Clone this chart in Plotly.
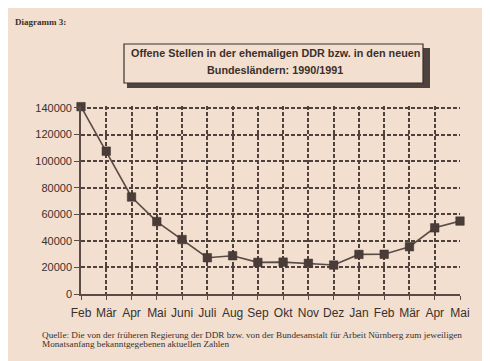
import plotly.graph_objects as go

months = ["Feb", "Mär", "Apr", "Mai", "Juni", "Juli", "Aug", "Sep", "Okt", "Nov", "Dez",
          "Jan", "Feb", "Mär", "Apr", "Mai"]
offene_stellen = [141000, 107500, 73000, 54500, 41000, 27300, 28800, 23800, 24000, 23100,
                  21800, 29800, 29900, 35600, 49800, 54900]
y_ticks = [0, 20000, 40000, 60000, 80000, 100000, 120000, 140000]

x_pos = list(range(len(months)))

BG = "#f2dfcf"
INK = "#3b302c"
LINE = "#5a4b45"
GRID = "#4f423d"

OFF = 8            # page body margin
W, H = 482, 353
Y_TOP = 141500
L = 81 - OFF
plot_bottom = 294 - OFF
ph = 186 * Y_TOP / 140000
T = plot_bottom - ph
B = H - plot_bottom
R = W - (460 - OFF)
pw = W - L - R


def px(x):
    return (x - OFF - L) / pw


def py(y):
    return (plot_bottom - (y - OFF)) / ph


fig = go.Figure()
fig.add_trace(go.Scatter(
    x=x_pos, y=offene_stellen, mode="lines+markers",
    line=dict(color=LINE, width=1.6),
    marker=dict(symbol="square", size=8.5, color="#4a3d39", line=dict(color="#3a2f2b", width=0.5)),
    cliponaxis=False, showlegend=False, hoverinfo="skip",
))

fig.update_layout(
    width=W, height=H,
    margin=dict(l=L, r=R, t=T, b=B),
    paper_bgcolor=BG, plot_bgcolor=BG,
    font=dict(family="Liberation Sans, Arial, sans-serif", color=INK),
    xaxis=dict(
        range=[0, len(months) - 1], tickvals=x_pos, ticktext=months,
        showgrid=True, gridcolor=GRID, griddash="4px,2px", gridwidth=1.5,
        showline=True, linecolor=LINE, linewidth=1.6,
        ticks="outside", ticklen=4, tickcolor=LINE, tickwidth=1.2,
        ticklabelstandoff=3,
        tickfont=dict(size=12, color=INK), zeroline=False, fixedrange=True,
    ),
    yaxis=dict(
        range=[0, Y_TOP], tickvals=y_ticks, ticktext=[str(v) for v in y_ticks],
        showgrid=True, gridcolor=GRID, griddash="4px,2px", gridwidth=1.5,
        showline=True, linecolor=LINE, linewidth=1.6,
        ticks="outside", ticklen=5, tickcolor=LINE, tickwidth=1.2,
        tickfont=dict(size=11, color=INK), zeroline=False, fixedrange=True,
    ),
    shapes=[
        dict(type="rect", xref="paper", yref="paper",
             x0=px(127), x1=px(430), y0=py(48), y1=py(88),
             fillcolor="#4f4340", line=dict(width=0), layer="above"),
        dict(type="rect", xref="paper", yref="paper",
             x0=px(124), x1=px(423), y0=py(44), y1=py(83),
             fillcolor=BG, line=dict(color=INK, width=1.2), layer="above"),
    ],
    annotations=[
        dict(xref="paper", yref="paper", x=px(275), y=py(53.5), xanchor="center", yanchor="middle",
             text="<b>Offene Stellen in der ehemaligen DDR bzw. in den neuen</b>",
             showarrow=False,
             font=dict(family="Liberation Sans, Arial, sans-serif", size=10.8, color=INK)),
        dict(xref="paper", yref="paper", x=px(275), y=py(70.5), xanchor="center", yanchor="middle",
             text="<b>Bundesländern: 1990/1991</b>",
             showarrow=False,
             font=dict(family="Liberation Sans, Arial, sans-serif", size=10.8, color=INK)),
        dict(xref="paper", yref="paper", x=px(13), y=py(22), xanchor="left", yanchor="middle",
             text="<b>Diagramm 3:</b>", showarrow=False,
             font=dict(family="Liberation Serif, Times New Roman, serif", size=9, color=INK)),
        dict(xref="paper", yref="paper", x=px(40), y=py(334.5), xanchor="left", yanchor="middle",
             text="Quelle: Die von der früheren Regierung der DDR bzw. von der Bundesanstalt für Arbeit Nürnberg zum jeweiligen",
             showarrow=False,
             font=dict(family="Liberation Serif, Times New Roman, serif", size=9.2, color=INK)),
        dict(xref="paper", yref="paper", x=px(40), y=py(343.5), xanchor="left", yanchor="middle",
             text="Monatsanfang bekanntgegebenen aktuellen Zahlen",
             showarrow=False,
             font=dict(family="Liberation Serif, Times New Roman, serif", size=9.2, color=INK)),
    ],
)

fig.write_html("out.html")
